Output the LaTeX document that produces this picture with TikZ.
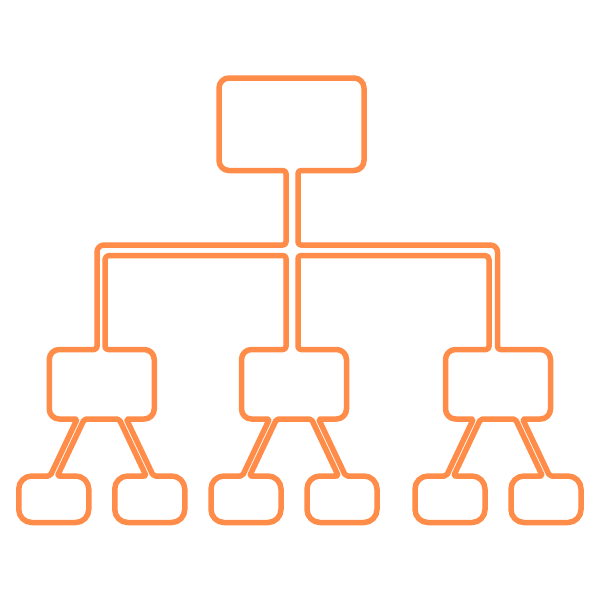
\documentclass[tikz,border=0pt]{standalone}
\definecolor{orgc}{RGB}{255,140,72}
\begin{document}
\begin{tikzpicture}[x=1pt,y=-1pt,
  ln/.style={draw=orgc,line width=5.5pt,line join=round}]
\useasboundingbox (0,0) rectangle (600,600);
\draw[ln,rounded corners=3]
  (200,245) -- (286,245) -- (286,170.5) [rounded corners=10]
  -- (219,170.5) -- (219,78) -- (364,78) -- (364,170.5) [rounded corners=3]
  -- (298,170.5) -- (298,245) [rounded corners=7]
  -- (497.5,245) [rounded corners=3]
  -- (497.5,349.5) [rounded corners=10]
  % right subtree p=498
  -- (550.5,349.5) -- (550.5,419) [rounded corners=2]
  -- (522.6,419) -- (549.6,476) [rounded corners=13]
  -- (581,476) -- (581,522.5) -- (511,522.5) -- (511,476) [rounded corners=2]
  -- (542.4,476) -- (515.4,419) -- (480.6,419) -- (453.6,476) [rounded corners=13]
  -- (485,476) -- (485,522.5) -- (415,522.5) -- (415,476) [rounded corners=2]
  -- (446.4,476) -- (473.4,419) [rounded corners=10]
  -- (445.5,419) -- (445.5,349.5) [rounded corners=3]
  -- (489,349.5) [rounded corners=4]
  -- (489,255.5) [rounded corners=3]
  -- (298,255.5) -- (298,349.5) [rounded corners=10]
  % centre subtree p=294
  -- (346.5,349.5) -- (346.5,419) [rounded corners=2]
  -- (318.6,419) -- (345.6,476) [rounded corners=13]
  -- (377,476) -- (377,522.5) -- (307,522.5) -- (307,476) [rounded corners=2]
  -- (338.4,476) -- (311.4,419) -- (276.6,419) -- (249.6,476) [rounded corners=13]
  -- (281,476) -- (281,522.5) -- (211,522.5) -- (211,476) [rounded corners=2]
  -- (242.4,476) -- (269.4,419) [rounded corners=10]
  -- (241.5,419) -- (241.5,349.5) [rounded corners=3]
  -- (286,349.5) -- (286,255.5) [rounded corners=4]
  -- (105,255.5) [rounded corners=3]
  -- (105,349.5) [rounded corners=10]
  % left subtree p=101.75
  -- (154.25,349.5) -- (154.25,419) [rounded corners=2]
  -- (126.35,419) -- (153.35,476) [rounded corners=13]
  -- (184.75,476) -- (184.75,522.5) -- (114.75,522.5) -- (114.75,476) [rounded corners=2]
  -- (146.15,476) -- (119.15,419) -- (84.35,419) -- (57.35,476) [rounded corners=13]
  -- (88.75,476) -- (88.75,522.5) -- (18.75,522.5) -- (18.75,476) [rounded corners=2]
  -- (50.15,476) -- (77.15,419) [rounded corners=10]
  -- (49.25,419) -- (49.25,349.5) [rounded corners=3]
  -- (97,349.5) [rounded corners=7]
  -- (97,245) -- cycle;
\end{tikzpicture}
\end{document}
